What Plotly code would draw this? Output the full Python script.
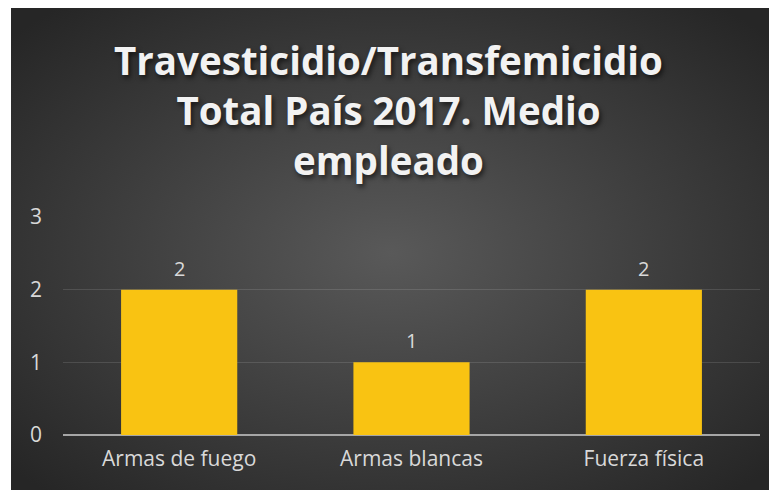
import base64
import plotly.graph_objects as go

categories = ["Armas de fuego", "Armas blancas", "Fuerza física"]
values = [2, 1, 2]
y_ticks = [0, 1, 2, 3]
title_lines = ["Travesticidio/Transfemicidio", "Total País 2017. Medio", "empleado"]

W, H = 777, 490
ML, MR, MT, MB = 55, 25, 209, 63
pw, ph = W - ML - MR, H - MT - MB

svg = """<svg xmlns='http://www.w3.org/2000/svg' width='774' height='490' viewBox='0 0 774 490' preserveAspectRatio='none'>
<defs><radialGradient id='g' cx='49%' cy='50%' r='66%'>
<stop offset='0' stop-color='#595959'/><stop offset='1' stop-color='#262626'/></radialGradient></defs>
<rect width='774' height='490' fill='url(#g)'/></svg>"""
src = "data:image/svg+xml;base64," + base64.b64encode(svg.encode()).decode()

bg_x0, bg_y0 = 3, 0
fig = go.Figure()
fig.add_trace(go.Bar(
    x=categories, y=values,
    marker=dict(color="#F9C312", line=dict(width=0)),
    hoverinfo="skip",
))

for c, v in zip(categories, values):
    fig.add_annotation(x=c, y=v, text=str(v), showarrow=False, yanchor="bottom", yshift=6,
                       font=dict(family="Open Sans", size=20, color="#d9d9d9"))

fig.add_layout_image(dict(
    source=src, xref="paper", yref="paper",
    x=(bg_x0 - ML) / pw, y=(H - MB - bg_y0) / ph,
    sizex=(W - bg_x0) / pw, sizey=(H - bg_y0) / ph,
    xanchor="left", yanchor="top", sizing="stretch", layer="below",
))
# white strip at the very left of the page
fig.add_shape(type="rect", xref="paper", yref="paper",
              x0=-ML / pw, x1=(bg_x0 - ML) / pw, y0=-MB / ph, y1=(H - MB) / ph,
              fillcolor="white", line=dict(width=0), layer="below")

fig.update_layout(
    width=W, height=H,
    margin=dict(l=ML, r=MR, t=MT, b=MB, pad=0),
    paper_bgcolor="#262626", plot_bgcolor="rgba(0,0,0,0)",
    bargap=0.5, showlegend=False,
    title=dict(
        text="<br>".join(title_lines),
        x=380.5 / W, xref="container", xanchor="center",
        y=1 - 67 / H, yref="container", yanchor="top",
        font=dict(family="Open Sans", size=38.5, color="#f2f2f2", weight="bold",
                  shadow="2px 3px 5px rgba(0,0,0,0.6)"),
    ),
    font=dict(family="Open Sans", color="#d9d9d9"),
    xaxis=dict(showgrid=False, showline=False, ticks="", tickfont=dict(size=21, color="#d9d9d9"),
               ticklabelstandoff=9, fixedrange=True),
    yaxis=dict(range=[0, 3], tickvals=y_ticks, showgrid=True, gridcolor="rgba(255,255,255,0.12)",
               gridwidth=1, zeroline=True, zerolinecolor="#a6a6a6", zerolinewidth=2,
               tickfont=dict(size=21, color="#d9d9d9"), ticklabelstandoff=20, fixedrange=True),
)

fig.write_html("out.html")
